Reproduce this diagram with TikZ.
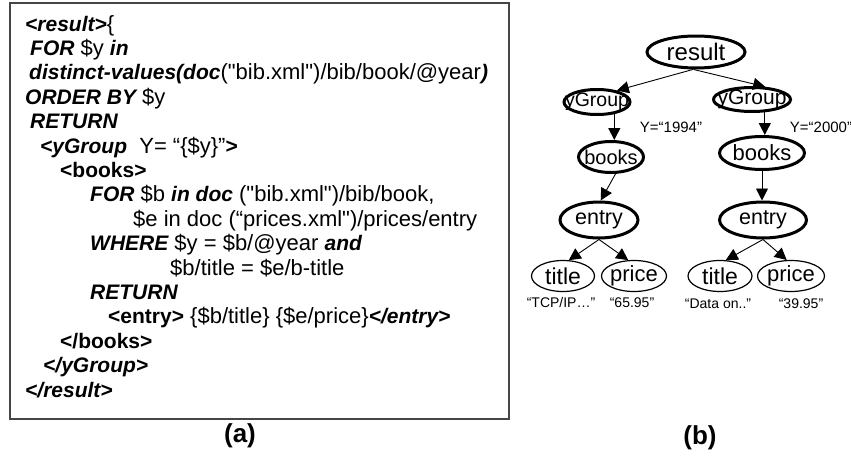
\documentclass[tikz,border=0pt]{standalone}
\usepackage{fontspec}
\setmainfont{Liberation Sans}[Ligatures=TeXOff]
\usetikzlibrary{shapes.geometric,arrows.meta}
\definecolor{boxgray}{RGB}{70,70,70}
\newcommand\kw[1]{{\fontsize{21}{24}\selectfont\bfseries\itshape #1}}
\newcommand\tg[1]{{\fontsize{21}{24}\selectfont\bfseries #1}}
\newcommand\fs[1]{\fontsize{#1}{#1}\selectfont}
\begin{document}
\begin{tikzpicture}[x=1pt,y=-1pt,
  code/.style={anchor=base west,inner sep=0pt,font=\fontsize{22}{24}\selectfont},
  boldell/.style={ellipse,draw,line width=3pt,inner sep=0pt},
  thinell/.style={ellipse,draw,line width=1.2pt,inner sep=0pt},
  tlabel/.style={inner sep=0pt},
  small/.style={inner sep=0pt,font=\fontsize{14}{16}\selectfont},
  sublabel/.style={inner sep=0pt,font=\fontsize{26}{30}\selectfont\bfseries},
  arr/.style={line width=0.9pt,-{Triangle[length=12pt,width=12pt]}}
]
\useasboundingbox (0,0) rectangle (851,455);
% frame of (a)
\draw[boxgray,line width=1.5pt] (10,3) rectangle (509,419);
% code lines
\node[code] (l0)  at (25,31)    {\kw{<result>}\{};
\node[code] (l1)  at (30,55.4)  {\kw{FOR} \$y \kw{in}};
\node[code] (l2)  at (29,79.8)  {\kw{distinct-values(doc}("bib.xml")/bib/book/@year\kw{)}};
\node[code] (l3)  at (25,104.2) {\kw{ORDER BY} \$y};
\node[code] (l4)  at (30,128.6) {\kw{RETURN}};
\node[code] (l5)  at (40,153)   {\kw{<yGroup}\ \ Y= “\{\$y\}”\tg{>}};
\node[code] (l6)  at (60,177.4) {\tg{<books>}};
\node[code] (l7)  at (90,201.8) {\kw{FOR} \$b \kw{in doc} ("bib.xml")/bib/book,};
\node[code] (l8)  at (133,226.2){\$e in doc (“prices.xml")/prices/entry};
\node[code] (l9)  at (90,250.6) {\kw{WHERE} \$y = \$b/@year \kw{and}};
\node[code] (l10) at (170,275)  {\$b/title = \$e/b-title};
\node[code] (l11) at (90,299.4) {\kw{RETURN}};
\node[code] (l12) at (108,323.8){\tg{<entry>} \{\$b/title\} \{\$e/price\}\kw{</entry>}};
\node[code] (l13) at (60,348.2) {\tg{</books>}};
\node[code] (l14) at (43,372.6) {\kw{</yGroup>}};
\node[code] (l15) at (25,397)   {\kw{</result>}};
\node[sublabel] (capa) at (240,436) {(a)};
\node[sublabel] (capb) at (700,438) {(b)};
% tree
\node[boldell,minimum width=98pt,minimum height=32pt] (res) at (696,52) {};
\node[tlabel,font=\fs{24}] (rest) at (res) {result};
\node[boldell,minimum width=66pt,minimum height=25pt] (yg1) at (597,102) {};
\node[tlabel,font=\fs{19.5}] (yg1t) at (yg1) {yGroup};
\node[boldell,minimum width=77pt,minimum height=24pt] (yg2) at (752,99.5) {};
\node[tlabel,font=\fs{21}] (yg2t) at (yg2) {yGroup};
\node[boldell,minimum width=65pt,minimum height=31pt] (b1) at (611,157) {};
\node[tlabel,font=\fs{20}] (b1t) at (b1) {books};
\node[boldell,minimum width=85pt,minimum height=33pt] (b2) at (762,153) {};
\node[tlabel,font=\fs{22}] (b2t) at (b2) {books};
\node[boldell,minimum width=78pt,minimum height=36pt] (e1) at (599,220) {};
\node[tlabel,font=\fs{21.5}] (e1t) at (e1) {entry};
\node[boldell,minimum width=87pt,minimum height=36pt] (e2) at (763,220) {};
\node[tlabel,font=\fs{21.5}] (e2t) at (e2) {entry};
\node[thinell,minimum width=63pt,minimum height=31pt] (t1) at (563,276) {};
\node[tlabel,font=\fs{23}] (t1t) at (t1) {title};
\node[thinell,minimum width=65pt,minimum height=31pt] (p1) at (634,276) {};
\node[tlabel,font=\fs{22}] (p1t) at (p1) {price};
\node[thinell,minimum width=64pt,minimum height=31pt] (t2) at (720,276) {};
\node[tlabel,font=\fs{23}] (t2t) at (t2) {title};
\node[thinell,minimum width=67pt,minimum height=31pt] (p2) at (791,276) {};
\node[tlabel,font=\fs{22}] (p2t) at (p2) {price};
% attribute / value labels
\node[small,font=\fs{15}] (y1994) at (671,127) {Y=“1994”};
\node[small,font=\fs{15}] (y2000) at (821,127) {Y=“2000”};
\node[small] (v1) at (561,302) {“TCP/IP…”};
\node[small] (v2) at (632,303) {“65.95”};
\node[small] (v3) at (718,304) {“Data on..”};
\node[small] (v4) at (801,304) {“39.95”};
% connectors
\draw[arr] (res.260) -- (yg1.30);
\draw[arr] (res.262) -- (yg2.44);
\draw[arr] (yg1.-35) -- (yg1.-35 |- b1.north);
\draw[arr] (yg2.-45) -- (yg2.-45 |- b2.north);
\draw[arr] (b1.-75) -- (e1.85);
\draw[arr] (b2.south) -- (b2.south |- e2.north);
\draw[arr] (e1.south) -- (t1.70);
\draw[arr] (e1.south) -- (p1.110);
\draw[arr] (e2.south) -- (t2.70);
\draw[arr] (e2.south) -- (p2.105);
\end{tikzpicture}
\end{document}
